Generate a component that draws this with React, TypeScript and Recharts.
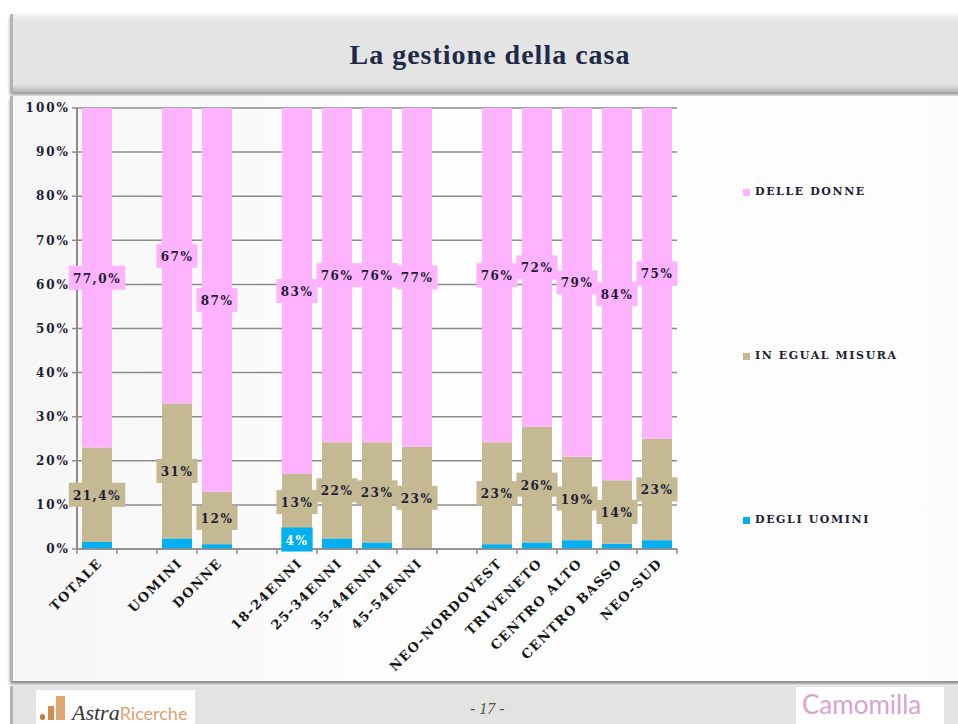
import React from 'react';
import { BarChart, Bar, XAxis, YAxis, CartesianGrid, LabelList } from 'recharts';

const categories = ['TOTALE', '', 'UOMINI', 'DONNE', '', '18-24ENNI', '25-34ENNI', '35-44ENNI', '45-54ENNI', '', 'NEO-NORDOVEST', 'TRIVENETO', 'CENTRO ALTO', 'CENTRO BASSO', 'NEO-SUD'];
const degliUomini = [1.6, null, 2.4, 1.1, null, 4.3, 2.4, 1.5, 0, null, 1.1, 1.5, 2.0, 1.2, 2.0];
const inEgualMisura = [21.4, null, 30.6, 11.9, null, 12.7, 21.8, 22.7, 23.2, null, 23.1, 26.2, 18.9, 14.4, 23.0];
const delleDonne = [77.0, null, 67.0, 87.0, null, 83.0, 75.8, 75.8, 76.8, null, 75.8, 72.3, 79.1, 84.4, 75.0];
const yTicks = [0, 10, 20, 30, 40, 50, 60, 70, 80, 90, 100];
const seriesKeys = ['uomini', 'egual', 'donne'];
const seriesNames = ['DEGLI UOMINI', 'IN EGUAL MISURA', 'DELLE DONNE'];
const seriesColors = ['#00b0f0', '#c4b992', '#ffb3ff'];
const titleText = 'La gestione della casa';
const pageText = '- 17 -';

const data = categories.map((name, i) => ({
  name,
  uomini: degliUomini[i],
  egual: inEgualMisura[i],
  donne: delleDonne[i],
}));

const FONT = '"DejaVu Serif", serif';
const TEXT_COLOR = '#1d1d35';
const PLOT_LEFT = 77;
const PLOT_RIGHT = 677;
const PLOT_TOP = 108;
const PLOT_BOTTOM = 549;
const BAND = (PLOT_RIGHT - PLOT_LEFT) / categories.length;

const charW = (c: string) => {
  if (c === '%') return 13.5;
  if (c === ',') return 5.5;
  return 9.8;
};

const makeLabel = (fill: string, color: string, minVal: number) => (props: any) => {
  const { x, y, width, height, value, index } = props;
  if (value == null || value < minVal) return null;
  const txt = index === 0 ? Number(value).toFixed(1).replace('.', ',') + '%' : Math.round(Number(value)) + '%';
  const cx = Number(x) + Number(width) / 2;
  const cy = Number(y) + Number(height) / 2;
  let w = 8;
  for (const c of txt) w += charW(c);
  return (
    <g>
      <rect x={cx - w / 2} y={cy - 12} width={w} height={24} fill={fill} />
      <text x={cx} y={cy + 1} textAnchor="middle" dominantBaseline="central" fontFamily={FONT} fontWeight="bold" fontSize={12} letterSpacing={1.5} fill={color}>
        {txt}
      </text>
    </g>
  );
};

const XTick = (props: any) => {
  const { x, payload, index } = props;
  const label = payload && payload.value ? String(payload.value) : '';
  const left = x - BAND / 2;
  const last = index === categories.length - 1;
  return (
    <g>
      <line x1={left} y1={PLOT_BOTTOM} x2={left} y2={PLOT_BOTTOM + 5} stroke="#8c8c8c" strokeWidth={1.5} />
      {last && <line x1={x + BAND / 2} y1={PLOT_BOTTOM} x2={x + BAND / 2} y2={PLOT_BOTTOM + 5} stroke="#8c8c8c" strokeWidth={1.5} />}
      {label && (
        <text x={0} y={0} transform={`translate(${x + 6},${PLOT_BOTTOM + 15}) rotate(-45)`} textAnchor="end" fontFamily={FONT} fontWeight="bold" fontSize={13} letterSpacing={1.4} fill="#141414">
          {label}
        </text>
      )}
    </g>
  );
};

export default function App() {
  const legendOrder = [2, 1, 0];
  return (
    <div style={{ position: 'absolute', left: 0, top: 0, width: 958, height: 724, background: '#ffffff', overflow: 'hidden' }}>
      {/* title bar */}
      <div style={{ position: 'absolute', left: 10, top: 14, width: 960, height: 78, background: 'linear-gradient(#f4f4f4 0px, #e4e4e4 8px, #e4e4e4 70px, #b8b8b8 78px)', borderLeft: '3px solid #b4b4b4', boxShadow: '0 3px 3px #9a9a9a', boxSizing: 'border-box' }} />
      <div style={{ position: 'absolute', left: 10, top: 16, width: 948, height: 78, display: 'flex', alignItems: 'center', justifyContent: 'center', fontFamily: '"Liberation Serif", serif', fontWeight: 'bold', fontSize: 28, letterSpacing: 1, color: '#1e2a48' }}>
        <span style={{ marginLeft: 12 }}>{titleText}</span>
      </div>
      {/* chart panel */}
      <div style={{ position: 'absolute', left: 10, top: 96, width: 960, height: 585, background: 'linear-gradient(90deg, #f6f6f6, #fdfdfd 40%, #fcfcfc)', borderLeft: '3px solid #b4b4b4', boxShadow: '0 3px 3px #8a8a8a', boxSizing: 'border-box' }} />
      {/* footer */}
      <div style={{ position: 'absolute', left: 10, top: 686, width: 960, height: 40, background: '#e3e3e3', borderLeft: '3px solid #b4b4b4', boxSizing: 'border-box' }} />
      <div style={{ position: 'absolute', left: 36, top: 690, width: 159, height: 34, background: '#ffffff' }}>
        <div style={{ position: 'absolute', left: 4, top: 24, width: 5, height: 6, background: '#c8793a', borderRadius: 3 }} />
        <div style={{ position: 'absolute', left: 12, top: 16, width: 6, height: 14, background: '#d48c4c' }} />
        <div style={{ position: 'absolute', left: 20, top: 6, width: 9, height: 24, background: '#e0a66e' }} />
        <div style={{ position: 'absolute', left: 36, top: 10, fontFamily: '"Liberation Serif", serif', fontStyle: 'italic', fontSize: 22, color: '#333', whiteSpace: 'nowrap' }}>
          Astra<span style={{ fontFamily: 'Lato, sans-serif', fontStyle: 'normal', fontSize: 18, color: '#e0a070' }}>Ricerche</span>
        </div>
      </div>
      <div style={{ position: 'absolute', left: 470, top: 700, fontFamily: '"Liberation Serif", serif', fontStyle: 'italic', fontSize: 16, color: '#4a5a3a', whiteSpace: 'nowrap' }}>{pageText}</div>
      <div style={{ position: 'absolute', left: 796, top: 687, width: 148, height: 37, background: '#ffffff' }}>
        <div style={{ position: 'absolute', left: 6, top: 1, fontFamily: 'Lato, sans-serif', fontSize: 26, color: '#d8a2d2', whiteSpace: 'nowrap' }}>Camomilla</div>
      </div>
      {/* legend */}
      {legendOrder.map((si, k) => (
        <div key={seriesKeys[si]} style={{ position: 'absolute', left: 743, top: 186 + k * 164, display: 'flex', alignItems: 'center', whiteSpace: 'nowrap' }}>
          <div style={{ width: 7, height: 7, background: seriesColors[si], marginRight: 5 }} />
          <span style={{ fontFamily: FONT, fontWeight: 'bold', fontSize: 11, letterSpacing: 1.6, color: TEXT_COLOR, lineHeight: '12px' }}>{seriesNames[si]}</span>
        </div>
      ))}
      {/* chart */}
      <div style={{ position: 'absolute', left: 0, top: 0 }}>
        <BarChart width={958} height={724} data={data} margin={{ top: PLOT_TOP, right: 958 - PLOT_RIGHT, bottom: 724 - PLOT_BOTTOM - 60, left: 0 }} barCategoryGap="12.5%">
          <CartesianGrid vertical={false} stroke="#8c8c8c" strokeWidth={1.5} />
          <XAxis dataKey="name" height={60} interval={0} tick={<XTick />} tickLine={false} axisLine={{ stroke: '#8c8c8c', strokeWidth: 1.5 }} />
          <YAxis width={PLOT_LEFT} domain={[0, 100]} ticks={yTicks} interval={0} tickFormatter={(v: number) => v + '%'} tickSize={5} tickLine={{ stroke: '#8c8c8c', strokeWidth: 1.5 }} axisLine={{ stroke: '#8c8c8c', strokeWidth: 2 }} tick={{ fontFamily: FONT, fontWeight: 'bold', fontSize: 12, fill: TEXT_COLOR, letterSpacing: 2 }} />
          {seriesKeys.map((k, si) => (
            <Bar key={k} dataKey={k} name={seriesNames[si]} stackId="s" fill={seriesColors[si]} isAnimationActive={false}>
              <LabelList dataKey={k} content={makeLabel(seriesColors[si], si === 0 ? '#ffffff' : TEXT_COLOR, si === 0 ? 3 : 0.5)} />
            </Bar>
          ))}
        </BarChart>
      </div>
    </div>
  );
}
